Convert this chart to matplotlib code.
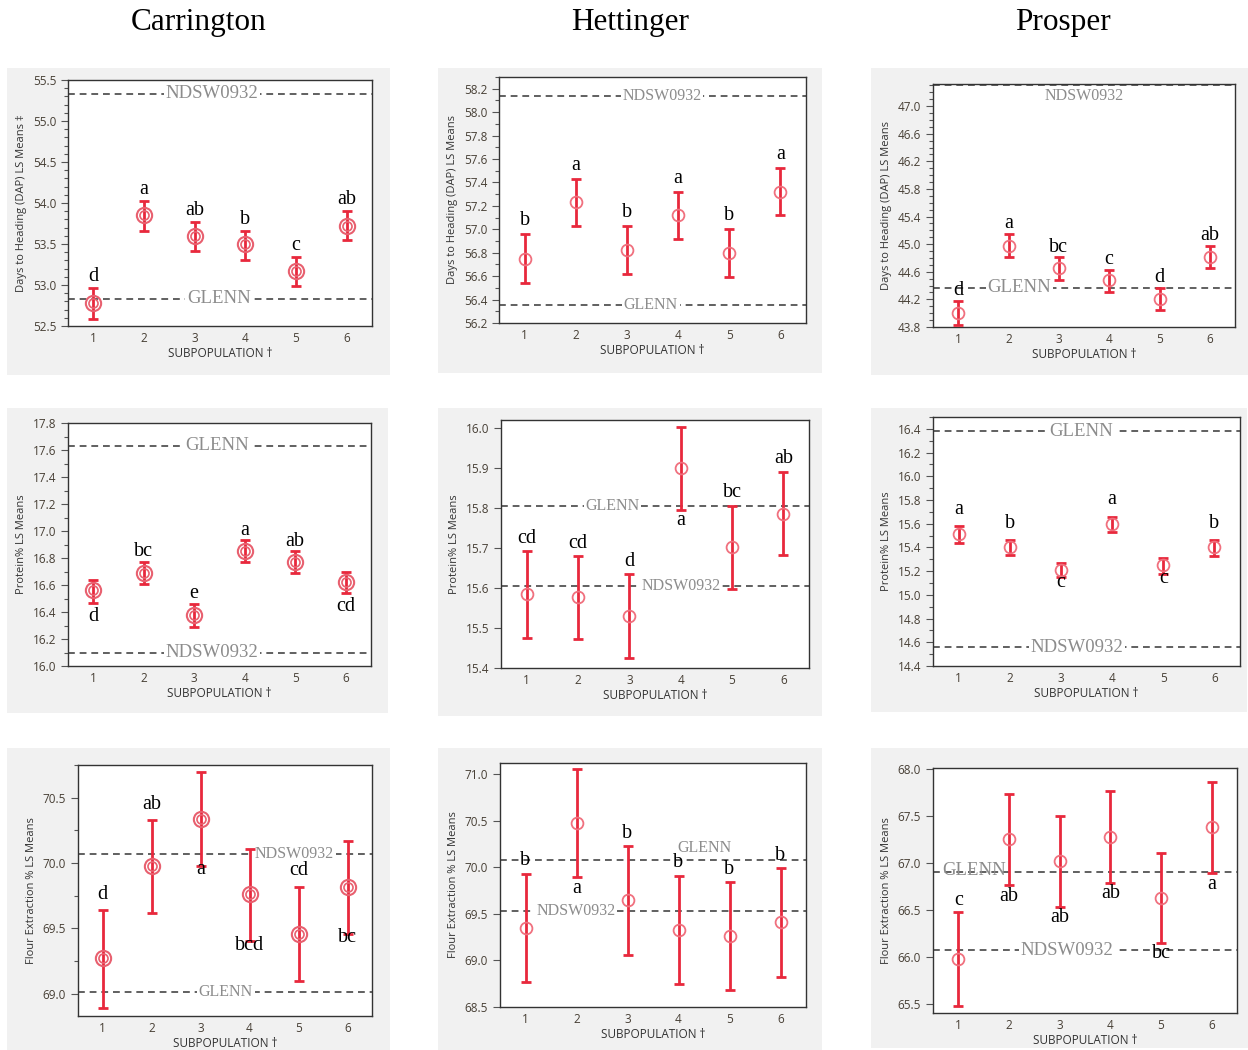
import numpy as np
import matplotlib.pyplot as plt
from matplotlib.patches import Rectangle
from matplotlib.ticker import MultipleLocator, FixedLocator, FormatStrFormatter

W, H = 1248, 1050
subpop = [1, 2, 3, 4, 5, 6]
locations = ['Carrington', 'Hettinger', 'Prosper']

# Days to heading (DAP)
car_dap = [52.78, 53.85, 53.60, 53.50, 53.17, 53.72]
car_dap_lo = [52.58, 53.66, 53.42, 53.31, 52.99, 53.55]
car_dap_hi = [52.96, 54.02, 53.77, 53.66, 53.34, 53.90]
car_dap_let = ['d', 'a', 'ab', 'b', 'c', 'ab']
car_dap_side = ['up'] * 6
car_dap_checks = {'NDSW0932': 55.33, 'GLENN': 52.83}

het_dap = [56.75, 57.23, 56.82, 57.12, 56.80, 57.32]
het_dap_lo = [56.54, 57.03, 56.62, 56.92, 56.59, 57.12]
het_dap_hi = [56.96, 57.43, 57.03, 57.32, 57.00, 57.52]
het_dap_let = ['b', 'a', 'b', 'a', 'b', 'a']
het_dap_side = ['up'] * 6
het_dap_checks = {'NDSW0932': 58.14, 'GLENN': 56.35}

pro_dap = [44.01, 44.98, 44.66, 44.48, 44.21, 44.82]
pro_dap_lo = [43.83, 44.81, 44.48, 44.31, 44.05, 44.65]
pro_dap_hi = [44.18, 45.15, 44.81, 44.63, 44.37, 44.98]
pro_dap_let = ['d', 'a', 'bc', 'c', 'd', 'ab']
pro_dap_side = ['up'] * 6
pro_dap_checks = {'NDSW0932': 47.30, 'GLENN': 44.37}

# Protein %
car_pro = [16.56, 16.69, 16.38, 16.85, 16.77, 16.62]
car_pro_lo = [16.47, 16.61, 16.29, 16.77, 16.69, 16.54]
car_pro_hi = [16.64, 16.77, 16.46, 16.93, 16.85, 16.70]
car_pro_let = ['d', 'bc', 'e', 'a', 'ab', 'cd']
car_pro_side = ['dn', 'up', 'up', 'up', 'up', 'dn']
car_pro_checks = {'GLENN': 17.63, 'NDSW0932': 16.10}

het_pro = [15.584, 15.578, 15.530, 15.900, 15.703, 15.786]
het_pro_lo = [15.475, 15.473, 15.426, 15.795, 15.598, 15.682]
het_pro_hi = [15.692, 15.680, 15.634, 16.003, 15.806, 15.891]
het_pro_let = ['cd', 'cd', 'd', 'a', 'bc', 'ab']
het_pro_side = ['up', 'up', 'up', 'dn', 'up', 'up']
het_pro_checks = {'GLENN': 15.806, 'NDSW0932': 15.606}

pro_pro = [15.51, 15.40, 15.21, 15.60, 15.25, 15.40]
pro_pro_lo = [15.44, 15.34, 15.15, 15.53, 15.18, 15.33]
pro_pro_hi = [15.58, 15.46, 15.27, 15.66, 15.31, 15.46]
pro_pro_let = ['a', 'b', 'c', 'a', 'c', 'b']
pro_pro_side = ['up', 'up', 'dn', 'up', 'dn', 'up']
pro_pro_checks = {'GLENN': 16.38, 'NDSW0932': 14.56}

# Flour extraction %
car_flr = [69.27, 69.98, 70.34, 69.76, 69.46, 69.82]
car_flr_lo = [68.89, 69.62, 69.98, 69.40, 69.10, 69.46]
car_flr_hi = [69.64, 70.33, 70.70, 70.11, 69.82, 70.17]
car_flr_let = ['d', 'ab', 'a', 'bcd', 'cd', 'bc']
car_flr_side = ['up', 'up', 'dn', 'dn', 'up', 'dn']
car_flr_checks = {'NDSW0932': 70.07, 'GLENN': 69.01}

het_flr = [69.35, 70.48, 69.65, 69.33, 69.26, 69.41]
het_flr_lo = [68.77, 69.90, 69.06, 68.75, 68.68, 68.82]
het_flr_hi = [69.93, 71.06, 70.23, 69.91, 69.84, 69.99]
het_flr_let = ['b', 'a', 'b', 'b', 'b', 'b']
het_flr_side = ['up', 'dn', 'up', 'up', 'up', 'up']
het_flr_checks = {'GLENN': 70.08, 'NDSW0932': 69.53}

pro_flr = [65.98, 67.25, 67.02, 67.28, 66.63, 67.38]
pro_flr_lo = [65.47, 66.76, 66.53, 66.79, 66.15, 66.89]
pro_flr_hi = [66.48, 67.73, 67.50, 67.76, 67.10, 67.86]
pro_flr_let = ['c', 'ab', 'ab', 'ab', 'bc', 'a']
pro_flr_side = ['up', 'dn', 'dn', 'dn', 'dn', 'dn']
pro_flr_checks = {'GLENN': 66.90, 'NDSW0932': 66.07}

SERIF = 'Liberation Serif'
SANS = ['Open Sans', 'DejaVu Sans']
RED = '#e8283c'
PINK = '#f0707e'
TICKC = '#473f35'

fig = plt.figure(figsize=(W / 100, H / 100), dpi=100)


def px(l, t, r, b):
    return [l / W, 1 - b / H, (r - l) / W, (b - t) / H]


def panel(box, axpx, mean, lo, hi, letters, sides, checks, labpos, ylim,
          major, minor, ylabel, double, up, dn, start=None):
    bl = px(*box)
    fig.add_artist(Rectangle((bl[0], bl[1]), bl[2], bl[3], transform=fig.transFigure,
                             fc='#f1f1f1', ec='none', zorder=-5))
    ax = fig.add_axes(px(*axpx))
    mean = np.array(mean)
    yerr = [mean - np.array(lo), np.array(hi) - mean]
    for name, val in checks.items():
        ax.axhline(val, color='#606060', lw=1.4, ls=(0, (3.5, 2.5)), zorder=1)
        x, dy, fs = labpos[name]
        ax.annotate(name, (x, val), xytext=(0, dy), textcoords='offset points',
                    ha='center', va='center', fontsize=fs, family=SERIF,
                    color='#8c8c8c', zorder=2,
                    bbox=dict(fc='white', ec='none', pad=1.2) if dy == 0 else None)
    ax.errorbar(subpop, mean, yerr=yerr, fmt='none', ecolor=RED, elinewidth=2,
                capsize=3.5, capthick=2, zorder=3)
    if double:
        ax.plot(subpop, mean, 'o', ms=11, mfc='none', mec='#e8606f', mew=1.5, zorder=4)
        ax.plot(subpop, mean, 'o', ms=6.5, mfc='none', mec='#e8606f', mew=1.2, zorder=4)
    else:
        ax.plot(subpop, mean, 'o', ms=8.5, mfc='none', mec=PINK, mew=1.3, zorder=4)
    for x, m, l, h, let, s in zip(subpop, mean, lo, hi, letters, sides):
        if s == 'up':
            ax.annotate(let, (x, h), xytext=(0, up), textcoords='offset points',
                        ha='center', va='baseline', fontsize=14.5, family=SERIF, zorder=5)
        else:
            ax.annotate(let, (x, l), xytext=(0, -dn), textcoords='offset points',
                        ha='center', va='top', fontsize=14.5, family=SERIF, zorder=5)
    ax.set_xlim(0.5, 6.5)
    ax.set_ylim(*ylim)
    ax.set_xticks(subpop)
    if start is None:
        ax.yaxis.set_major_locator(MultipleLocator(major))
    else:
        ax.yaxis.set_major_locator(FixedLocator(np.arange(start, ylim[1], major)))
    ax.yaxis.set_major_formatter(FormatStrFormatter('%.1f'))
    if minor:
        ax.yaxis.set_minor_locator(MultipleLocator(minor))
    ax.tick_params(axis='x', length=0, pad=4, labelsize=8.5, labelcolor=TICKC)
    ax.tick_params(axis='y', which='major', length=5, width=0.8, color='#555555',
                   labelsize=8.5, labelcolor=TICKC)
    ax.tick_params(axis='y', which='minor', length=3, width=0.8, color='#555555')
    for lab in ax.get_xticklabels() + ax.get_yticklabels():
        lab.set_family(SANS)
    for sp in ax.spines.values():
        sp.set_color('#333333')
        sp.set_linewidth(1)
    ax.set_xlabel('SUBPOPULATION \u2020', fontsize=8.5, family=SANS, color='#333333', labelpad=2)
    ax.set_ylabel(ylabel, fontsize=8, family=SANS, color='#333333', labelpad=4)
    return ax


dap_lab = 'Days to Heading (DAP) LS Means'
pro_lab = 'Protein% LS Means'
flr_lab = 'Flour Extraction % LS Means'

# row 1
panel((7, 68, 390, 375), (68, 80, 372, 326), car_dap, car_dap_lo, car_dap_hi,
      car_dap_let, car_dap_side, car_dap_checks,
      {'NDSW0932': (3.34, 0, 13.5), 'GLENN': (3.48, 0, 13.5)},
      (52.5, 55.5), 0.5, 0.1, dap_lab + ' \u2021', True, 5, 3)
panel((438, 68, 822, 373), (499, 77, 806, 323), het_dap, het_dap_lo, het_dap_hi,
      het_dap_let, het_dap_side, het_dap_checks,
      {'NDSW0932': (3.69, 0, 11.5), 'GLENN': (3.47, 0, 11.5)},
      (56.2, 58.3), 0.2, 0.1, dap_lab, False, 6.5, 3)
panel((871, 68, 1248, 375), (933, 84, 1235, 327), pro_dap, pro_dap_lo, pro_dap_hi,
      pro_dap_let, pro_dap_side, pro_dap_checks,
      {'NDSW0932': (3.5, -8, 11.5), 'GLENN': (2.21, 0, 13.5)},
      (43.8, 47.32), 0.4, 0.1, dap_lab, False, 4, 3, start=43.8)

# row 2
panel((7, 408, 388, 713), (68, 423, 371, 666), car_pro, car_pro_lo, car_pro_hi,
      car_pro_let, car_pro_side, car_pro_checks,
      {'GLENN': (3.46, 0, 13.5), 'NDSW0932': (3.35, 0, 13.5)},
      (16.0, 17.8), 0.2, 0.1, pro_lab, True, 4, 3)
panel((438, 408, 822, 716), (501, 420, 809, 668), het_pro, het_pro_lo, het_pro_hi,
      het_pro_let, het_pro_side, het_pro_checks,
      {'GLENN': (2.67, 0, 11.5), 'NDSW0932': (4.0, 0, 11.5)},
      (15.4, 16.02), 0.1, None, pro_lab, False, 6, 1)
panel((871, 408, 1247, 712), (933, 417, 1240, 666), pro_pro, pro_pro_lo, pro_pro_hi,
      pro_pro_let, pro_pro_side, pro_pro_checks,
      {'GLENN': (3.4, 0, 13.5), 'NDSW0932': (3.31, 0, 13.5)},
      (14.4, 16.5), 0.2, 0.1, pro_lab, False, 9, -3)

# row 3
panel((7, 748, 390, 1050), (78, 765, 372, 1016), car_flr, car_flr_lo, car_flr_hi,
      car_flr_let, car_flr_side, car_flr_checks,
      {'NDSW0932': (4.92, 0, 11.5), 'GLENN': (3.52, 0, 11.5)},
      (68.83, 70.75), 0.5, 0.25, flr_lab, True, 8, -4)
panel((438, 748, 822, 1050), (500, 763, 806, 1007), het_flr, het_flr_lo, het_flr_hi,
      het_flr_let, het_flr_side, het_flr_checks,
      {'GLENN': (4.5, 8.5, 11.5), 'NDSW0932': (1.99, 0, 11.5)},
      (68.5, 71.12), 0.5, None, flr_lab, False, 6, 2)
panel((871, 748, 1248, 1048), (933, 768, 1237, 1013), pro_flr, pro_flr_lo, pro_flr_hi,
      pro_flr_let, pro_flr_side, pro_flr_checks,
      {'GLENN': (1.32, 1.5, 13.5), 'NDSW0932': (3.15, 0, 13.5)},
      (65.4, 68.01), 0.5, None, flr_lab, False, 5, 1)

for name, xc in zip(locations, [199, 630, 1063]):
    fig.text(xc / W, 1 - 30 / H, name, ha='center', va='baseline',
             fontsize=22.5, family=SERIF)

fig.savefig('out.png', dpi=100, facecolor='white')
